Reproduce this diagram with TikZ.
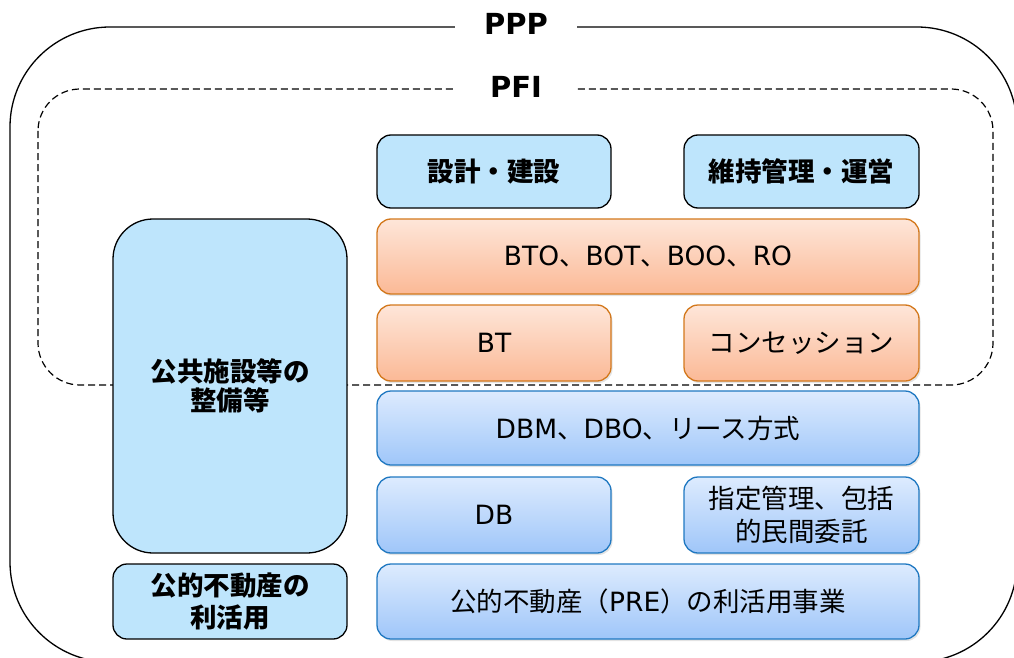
\documentclass[tikz,border=0pt]{standalone}
\usepackage{fontspec}
\setmainfont{Noto Sans CJK JP}
\newfontfamily\lat{DejaVu Sans}
\usetikzlibrary{shadows}
\definecolor{lblue}{HTML}{BEE5FC}
\definecolor{oratop}{HTML}{FEE6D9}
\definecolor{orabot}{HTML}{FBB996}
\definecolor{oraline}{HTML}{D3781C}
\definecolor{blutop}{HTML}{DDEBFE}
\definecolor{blubot}{HTML}{9FC6F9}
\definecolor{bluline}{HTML}{1F78C1}
\begin{document}
\begin{tikzpicture}[x=1pt,y=-1pt,
  every node/.style={font=\fontsize{26.5}{33}\selectfont},
  base/.style={rounded corners=14pt, line width=1.3pt, align=center, inner sep=0pt},
  headbox/.style={base, draw=black, fill=lblue, font=\fontsize{26.5}{32}\selectfont\bfseries},
  shad/.style={drop shadow={opacity=0.22, shadow xshift=1.5pt, shadow yshift=-2pt}},
  orabox/.style={base, shad, draw=oraline, top color=oratop, bottom color=orabot},
  blubox/.style={base, shad, draw=bluline, top color=blutop, bottom color=blubot},
  frametitle/.style={fill=white, minimum width=122pt, inner sep=0pt, font=\fontsize{29}{32}\selectfont\lat\bfseries}]
\useasboundingbox (0,0) rectangle (1014,658);
\clip (0,0) rectangle (1014,658);
% PPP frame
\draw[line width=1.3pt, rounded corners=100pt] (10,27) rectangle (1017,662);
\node[frametitle] (ppp) at (516,24) {PPP};
% PFI frame
\draw[line width=1.2pt, dash pattern=on 7pt off 4pt, rounded corners=42pt] (38,89) rectangle (993,385);
\node[frametitle] (pfi) at (516,87) {PFI};
% left boxes
\node[headbox, rounded corners=40pt, minimum width=234pt, minimum height=334pt] (kokyo) at (230,386) {\raisebox{-16pt}{\shortstack{公共施設等の\\[1pt]整備等}}};
\node[headbox, minimum width=234pt, minimum height=75pt] (koteki) at (230,601.5) {公的不動産の\\利活用};
% top headers
\node[headbox, minimum width=234pt, minimum height=73pt] (sekkei) at (494,171.5) {設計・建設};
\node[headbox, minimum width=235pt, minimum height=73pt] (iji) at (801.5,171.5) {維持管理・運営};
% orange
\node[orabox, minimum width=542pt, minimum height=75pt] (bto) at (648,256.5) {{\lat BTO}、{\lat BOT}、{\lat BOO}、{\lat RO}};
\node[orabox, minimum width=234pt, minimum height=76pt] (bt) at (494,343) {\lat BT};
\node[orabox, minimum width=235pt, minimum height=76pt] (conc) at (801.5,343) {コンセッション};
% blue
\node[blubox, minimum width=542pt, minimum height=74pt] (dbm) at (648,428) {{\lat DBM}、{\lat DBO}、リース方式};
\node[blubox, minimum width=234pt, minimum height=76pt] (db) at (494,515) {\lat DB};
\node[blubox, minimum width=235pt, minimum height=76pt] (shitei) at (801.5,515) {指定管理、包括\\的民間委託};
\node[blubox, minimum width=542pt, minimum height=75pt] (pre) at (648,601.5) {公的不動産（{\lat PRE}）の利活用事業};
\end{tikzpicture}
\end{document}
